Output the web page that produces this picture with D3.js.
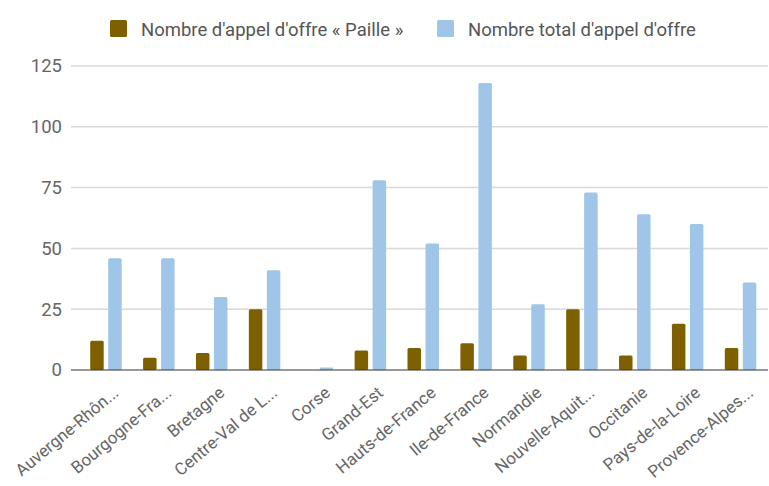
<!DOCTYPE html>
<html><head><meta charset="utf-8">
<script src="https://cdn.jsdelivr.net/npm/d3@7"></script>
<style>
html,body{margin:0;padding:0;background:#fff;}
svg{display:block;font-family:Roboto,"Noto Sans",sans-serif;}
</style></head>
<body>
<svg id="chart" width="769" height="486"></svg>
<script>
const categories = ["Auvergne-Rhôn...","Bourgogne-Fra...","Bretagne","Centre-Val de L...","Corse","Grand-Est","Hauts-de-France","Ile-de-France","Normandie","Nouvelle-Aquit...","Occitanie","Pays-de-la-Loire","Provence-Alpes..."];
const seriesNames = ["Nombre d'appel d'offre « Paille »","Nombre total d'appel d'offre"];
const paille = [12,5,7,25,0,8,9,11,6,25,6,19,9];
const total = [46,46,30,41,1,78,52,118,27,73,64,60,36];
const yTicks = [0,25,50,75,100,125];
const colors = ["#7f6000","#9fc5e8"];

const svg = d3.select("#chart");
const plotLeft = 71, plotRight = 768;
const x = d3.scaleBand().domain(categories).range([79.5, 767]).paddingInner(0).paddingOuter(0);
const y = d3.scaleLinear().domain([0,125]).range([370,66]);
const barW = 13.5, gap = 4.5;

// gridlines
svg.append("g").selectAll("line").data(yTicks.filter(d=>d>0)).join("line")
  .attr("x1",plotLeft).attr("x2",plotRight)
  .attr("y1",d=>y(d)).attr("y2",d=>y(d))
  .attr("stroke","#d9d9d9").attr("stroke-width",1.5);

// y labels
svg.append("g").selectAll("text").data(yTicks).join("text")
  .attr("x",62).attr("y",d=>y(d)).attr("dy","0.35em")
  .attr("text-anchor","end").attr("font-size",18.5).attr("fill","#666")
  .text(d=>d);

const series = [paille,total];
series.forEach((vals,si)=>{
  svg.append("g").selectAll("rect").data(vals).join("rect")
    .attr("x",(d,i)=>x(categories[i]) + x.bandwidth()/2 - barW - gap/2 + si*(barW+gap))
    .attr("width",barW)
    .attr("y",d=>y(d)).attr("height",d=>y(0)-y(d))
    .attr("rx",1.5)
    .attr("fill",colors[si]);
});

// baseline
svg.append("line").attr("x1",plotLeft).attr("x2",plotRight)
  .attr("y1",y(0)).attr("y2",y(0)).attr("stroke","#333").attr("stroke-width",1.2);

// x labels
svg.append("g").selectAll("text").data(categories).join("text")
  .attr("transform",d=>`translate(${x(d)+x.bandwidth()/2+10},${390}) rotate(-40)`)
  .attr("text-anchor","end").attr("dy","0.35em")
  .attr("font-size",17).attr("fill","#666")
  .text(d=>d);

// legend
const leg = svg.append("g");
const legItems = [{x:110,t:seriesNames[0]},{x:437,t:seriesNames[1]}];
legItems.forEach((it,i)=>{
  leg.append("rect").attr("x",it.x).attr("y",20).attr("width",17).attr("height",17).attr("rx",1.5).attr("fill",colors[i]);
  leg.append("text").attr("x",it.x+31).attr("y",36)
    .attr("font-size",18.5).attr("fill","#555").text(it.t);
});
</script>
</body></html>
